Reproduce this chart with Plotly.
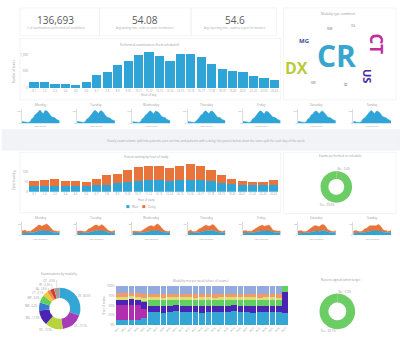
import plotly.graph_objects as go

W, H = 400, 346
BLUE = "#2fa4d6"
ORANGE = "#e8743b"
GREEN = "#6ccd64"
TXT = "#9a9a9a"
FONT = "Open Sans"

# ---------------- data ----------------
kpi_values = ["136,693", "54.08", "54.6"]
kpi_labels = [
    "# of examinations performed (all modalities)",
    "Avg waiting time, order to exam (in minutes)",
    "Avg reporting time, exam to report (in minutes)",
]

hour_labels = ["0-1", "1-2", "2-3", "3-4", "4-5", "5-6", "6-7", "7-8", "8-9", "9-10",
               "10-11", "11-12", "12-13", "13-14", "14-15", "15-16", "16-17", "17-18",
               "18-19", "19-20", "20-21", "21-22", "22-23", "23-24"]

exams_by_hour = [176, 176, 127, 118, 88, 167, 392, 470, 696, 794, 990, 1069,
                 951, 804, 1020, 1020, 912, 725, 559, 520, 480, 343, 294, 225]

days = ["Monday", "Tuesday", "Wednesday", "Thursday", "Friday", "Saturday", "Sunday"]

exams_mon = [24, 22, 17, 15, 12, 22, 58, 70, 104, 118, 146, 160, 138, 112, 150, 152, 134, 106, 82, 76, 70, 50, 41, 30]
exams_tue = [26, 24, 19, 16, 14, 25, 55, 66, 98, 115, 144, 156, 140, 118, 148, 150, 128, 102, 78, 72, 66, 47, 40, 31]
exams_wed = [23, 24, 18, 17, 12, 23, 57, 69, 101, 112, 140, 150, 134, 114, 147, 144, 131, 105, 81, 75, 71, 49, 43, 33]
exams_thu = [25, 23, 16, 18, 13, 24, 54, 68, 97, 110, 138, 152, 137, 116, 145, 148, 130, 103, 79, 73, 68, 48, 42, 32]
exams_fri = [27, 25, 19, 16, 14, 25, 56, 65, 96, 114, 142, 151, 133, 113, 144, 142, 127, 104, 80, 74, 70, 50, 44, 34]
exams_sat = [26, 26, 18, 17, 13, 23, 55, 66, 100, 112, 139, 150, 135, 117, 143, 146, 129, 101, 79, 72, 67, 49, 41, 33]
exams_sun = [24, 25, 17, 18, 12, 25, 57, 67, 98, 113, 141, 154, 136, 115, 146, 145, 131, 104, 81, 75, 69, 51, 43, 31]

waiting_seen = [28, 28, 30, 28, 28, 28, 32, 35, 42, 48, 55, 58, 58, 57, 58, 62, 60, 55, 45, 38, 33, 32, 32, 32]
waiting_delay = [27, 30, 33, 24, 24, 22, 31, 50, 50, 60, 68, 72, 70, 63, 72, 76, 70, 55, 38, 27, 22, 16, 18, 26]
legend_names = ["Wait", "Delay"]

seen_mon = [4, 4, 5, 4, 4, 4, 5, 5, 6, 7, 8, 9, 8, 8, 8, 9, 9, 8, 7, 5, 5, 5, 4, 5]
delay_mon = [4, 5, 5, 3, 4, 3, 4, 7, 8, 9, 11, 10, 9, 10, 11, 12, 10, 8, 5, 4, 3, 2, 3, 4]
seen_tue = [4, 4, 4, 4, 4, 4, 4, 5, 6, 7, 8, 8, 9, 8, 8, 9, 8, 8, 6, 5, 5, 4, 5, 5]
delay_tue = [4, 4, 5, 4, 3, 3, 5, 7, 7, 8, 10, 11, 10, 9, 10, 11, 10, 7, 5, 4, 3, 3, 3, 4]
seen_wed = [4, 4, 4, 4, 4, 4, 5, 5, 6, 7, 7, 8, 8, 8, 9, 9, 9, 8, 6, 6, 5, 5, 5, 4]
delay_wed = [4, 4, 4, 3, 3, 3, 4, 6, 7, 9, 10, 10, 10, 8, 10, 12, 11, 8, 6, 4, 3, 2, 2, 4]
seen_thu = [4, 4, 5, 4, 4, 4, 5, 5, 6, 6, 8, 8, 8, 8, 8, 9, 9, 7, 6, 5, 5, 5, 5, 5]
delay_thu = [3, 4, 5, 3, 3, 3, 4, 7, 7, 9, 10, 11, 10, 9, 10, 11, 10, 8, 5, 4, 3, 2, 3, 4]
seen_fri = [4, 4, 4, 4, 4, 4, 5, 5, 6, 7, 8, 8, 8, 8, 8, 9, 9, 8, 6, 5, 5, 5, 5, 5]
delay_fri = [4, 4, 5, 3, 4, 3, 4, 7, 7, 9, 9, 10, 11, 9, 10, 10, 10, 8, 5, 4, 3, 3, 3, 3]
seen_sat = [4, 4, 4, 4, 4, 4, 4, 5, 6, 7, 8, 8, 8, 7, 8, 9, 9, 8, 6, 5, 5, 5, 4, 5]
delay_sat = [4, 4, 5, 3, 3, 3, 5, 7, 8, 9, 10, 10, 9, 9, 11, 11, 10, 8, 5, 4, 3, 2, 3, 4]
seen_sun = [4, 4, 4, 4, 4, 4, 5, 5, 6, 7, 8, 8, 8, 8, 8, 9, 8, 8, 6, 5, 5, 5, 5, 5]
delay_sun = [4, 4, 5, 3, 3, 3, 4, 7, 7, 9, 10, 10, 10, 9, 10, 11, 11, 8, 5, 4, 4, 2, 3, 4]

on_time_labels = ["No", "Yes"]
on_time_share = [0.4, 99.6]
signed_labels = ["No", "Yes"]
signed_share = [0.3, 99.7]

modality_names = ["CR", "US", "DX", "MG", "NM", "MR", "CT", "XA", "RF", "OT"]
modality_share = [30.5, 17.1, 13.9, 11.9, 6.2, 6.0, 4.1, 2.6, 3.2, 4.5]
modality_colors = ["#33a6d6", "#a83bb8", "#b8d43c", "#4b24b3", "#3a7bd5",
                   "#5fcf62", "#f2c83a", "#f08a4b", "#d43c2c", "#a0a0a0"]

weeks = ["W01", "W02", "W03", "W04", "W05", "W06", "W07", "W08", "W09", "W10",
         "W11", "W12", "W13", "W14", "W15", "W16", "W17", "W18", "W19", "W20",
         "W21", "W22", "W23", "W24", "W25", "W26", "W27"]
mix_names = ["CR", "MG", "US", "DX", "RF", "CT", "Other"]
mix_cr = [12, 13, 12, 12, 18, 33, 34, 32, 33, 35, 33, 34, 33, 32, 34, 33, 34, 33, 35, 33, 34, 32, 33, 34, 33, 34, 30]
mix_mg = [38, 37, 38, 38, 24, 0, 0, 0, 0, 0, 0, 0, 0, 0, 0, 0, 0, 0, 0, 0, 0, 0, 0, 0, 0, 0, 0]
mix_us = [17, 17, 18, 17, 18, 16, 15, 17, 16, 15, 16, 15, 16, 17, 15, 16, 15, 16, 15, 16, 15, 17, 16, 15, 16, 15, 55]
mix_dx = [0, 0, 0, 0, 3, 17, 17, 16, 17, 16, 17, 17, 16, 17, 17, 16, 17, 17, 16, 17, 17, 17, 16, 17, 17, 16, 15]
mix_rf = [5, 5, 5, 5, 5, 5, 5, 5, 5, 5, 5, 5, 5, 5, 5, 5, 5, 5, 5, 5, 5, 5, 5, 5, 5, 5, 0]
mix_ct = [9, 9, 9, 9, 10, 9, 9, 9, 9, 9, 9, 9, 9, 9, 9, 9, 9, 9, 9, 9, 9, 9, 9, 9, 9, 9, 0]
mix_other = [19, 19, 18, 19, 22, 20, 20, 21, 20, 20, 20, 20, 21, 20, 20, 21, 20, 20, 20, 20, 20, 20, 21, 20, 20, 21, 0]
mix_colors = ["#33a6d6", "#b02fae", "#4b24b3", "#62cf62", "#d9e07a", "#f39a66", "#93aadd"]

cloud_words = ["CR", "CT", "DX", "US", "MG", "NM", "XA", "RF", "MR"]
cloud_sizes = [30, 17, 16, 11, 6, 3, 3, 3, 3]

# ---------------- helpers ----------------
fig = go.Figure()
_n = [0]


def new_axes(x0, x1, y0, y1, xkw=None, ykw=None):
    """Create an x/y axis pair whose plot area covers the given pixel box."""
    _n[0] += 1
    s = "" if _n[0] == 1 else str(_n[0])
    base = dict(tickfont=dict(size=3, color=TXT), showgrid=False, zeroline=False,
                showline=False, ticks="", fixedrange=True)
    xa = dict(domain=[x0 / W, x1 / W], anchor="y" + s, type="category", **base)
    ya = dict(domain=[1 - y1 / H, 1 - y0 / H], anchor="x" + s, **base)
    xa.update(xkw or {})
    ya.update(ykw or {})
    fig.update_layout(**{"xaxis" + s: xa, "yaxis" + s: ya})
    return "x" + s, "y" + s


def text(x, y, s, size=3.5, color=TXT, angle=0, **kw):
    fig.add_annotation(x=x / W, y=1 - y / H, xref="paper", yref="paper", text=s,
                       showarrow=False, textangle=angle, xanchor="center",
                       yanchor="middle", font=dict(size=size, color=color, family=FONT), **kw)


def box(x0, y0, x1, y1, fill="rgba(0,0,0,0)", line="#ededed"):
    fig.add_shape(type="rect", xref="paper", yref="paper", x0=x0 / W, x1=x1 / W,
                  y0=1 - y1 / H, y1=1 - y0 / H, line=dict(color=line, width=0.6),
                  fillcolor=fill, layer="below")


# ---------------- panels ----------------
box(18, 6, 98, 34)
box(98, 6, 190, 34)
box(190, 6, 276, 34)
box(18, 37, 280, 99)
box(283, 6, 396, 99)
box(0, 129, 400, 150, fill="#f1f3f6", line="#f1f3f6")
box(18, 152, 280, 213)
box(283, 152, 396, 214)

# ---------------- KPI row ----------------
kpi_x = [54, 144, 234]
for cx, v, lab in zip(kpi_x, kpi_values, kpi_labels):
    text(cx, 18, v, size=10, color="#5a5a5a")
    text(cx, 26, lab, size=2.8, color="#aaaaaa")

# ---------------- exams by hour ----------------
xa, ya = new_axes(27, 279, 49, 87,
                  xkw=dict(tickfont=dict(size=2.6, color=TXT)),
                  ykw=dict(range=[0, 1120], tickvals=[0, 500, 1000], ticktext=["0", "500", "1,000"]))
fig.add_bar(x=hour_labels, y=exams_by_hour, marker=dict(color=BLUE, line=dict(width=0)),
            xaxis=xa, yaxis=ya, showlegend=False)
text(148, 43, "Performed examinations (from scheduled)", size=3)
text(148, 94.5, "Hour of day", size=2.8)
text(12, 70, "Number of exams", size=2.8, angle=-90)

# ---------------- word cloud ----------------
text(338, 12, "Modality type combined", size=3)
cloud_pos = [(336, 54), (376, 42), (296, 67), (368, 75), (304, 39),
             (329, 27), (353, 24), (345, 84), (313, 82)]
cloud_colors = ["#38a5cf", "#c12c9e", "#b8cc3a", "#4a2d9e", "#3b4a9a",
                "#aaaaaa", "#bbbbbb", "#999999", "#b0b0b0"]
cloud_angles = [0, 90, 0, 90, 0, 0, 0, 90, 0]
for w_, sz, (cx, cy), col, ang in zip(cloud_words, cloud_sizes, cloud_pos, cloud_colors, cloud_angles):
    text(cx, cy, "<b>" + w_ + "</b>", size=sz, color=col, angle=ang)

# ---------------- daily exams ----------------
day_exams = [exams_mon, exams_tue, exams_wed, exams_thu, exams_fri, exams_sat, exams_sun]
for i, (d, vals) in enumerate(zip(days, day_exams)):
    x0 = 20 + i * 55.5
    xa, ya = new_axes(x0, x0 + 38, 108, 123,
                      xkw=dict(showticklabels=False),
                      ykw=dict(range=[0, 175], tickvals=[0, 150], tickfont=dict(size=2.4, color=TXT),
                               showline=True, linecolor="#dddddd", linewidth=0.5))
    fig.add_scatter(x=hour_labels, y=vals, mode="lines", fill="tozeroy",
                    line=dict(color=BLUE, width=0.5), fillcolor=BLUE,
                    xaxis=xa, yaxis=ya, showlegend=False)
    text(x0 + 19, 104, d, size=3)
    text(x0 + 19, 126, "Hour of day", size=2.3)

# ---------------- info band ----------------
text(205, 141, "Hourly exam volume split into patients seen on time and patients with a delay; "
               "the panels below show the same split for each day of the week", size=3, color="#a5a5a5")

# ---------------- waiting by hour (stacked) ----------------
xa, ya = new_axes(27, 278, 163, 192,
                  xkw=dict(tickfont=dict(size=2.6, color=TXT)),
                  ykw=dict(range=[0, 145], tickvals=[0, 50, 100]))
fig.add_bar(x=hour_labels, y=waiting_seen, name=legend_names[0], marker=dict(color=BLUE, line=dict(width=0)),
            xaxis=xa, yaxis=ya, showlegend=False)
fig.add_bar(x=hour_labels, y=waiting_delay, name=legend_names[1], marker=dict(color=ORANGE, line=dict(width=0)),
            xaxis=xa, yaxis=ya, showlegend=False)
text(145, 157, "Patient waiting by hour of study", size=3)
text(145, 200, "Hour of study", size=2.6)
text(12, 180, "Patients waiting", size=2.6, angle=-90)
# legend swatches
for lx, col, name in [(125, BLUE, legend_names[0]), (141, ORANGE, legend_names[1])]:
    fig.add_shape(type="rect", xref="paper", yref="paper", x0=lx / W, x1=(lx + 3) / W,
                  y0=1 - 208.5 / H, y1=1 - 205.5 / H, fillcolor=col, line=dict(width=0))
    fig.add_annotation(x=(lx + 4) / W, y=1 - 207 / H, xref="paper", yref="paper", text=name,
                       showarrow=False, xanchor="left", yanchor="middle",
                       font=dict(size=3, color=TXT, family=FONT))

# ---------------- on time donut ----------------
text(340, 156, "Exams performed on schedule", size=3)
fig.add_pie(labels=on_time_labels, values=on_time_share, hole=0.5, sort=False,
            direction="clockwise", marker=dict(colors=[ORANGE, GREEN], line=dict(width=0)),
            domain=dict(x=[320 / W, 352 / W], y=[1 - 203 / H, 1 - 171 / H]),
            textposition="outside", texttemplate="%{label} - %{percent:.1%}",
            textfont=dict(size=2.8, color=TXT), showlegend=False)

# ---------------- daily waiting (stacked areas) ----------------
day_seen = [seen_mon, seen_tue, seen_wed, seen_thu, seen_fri, seen_sat, seen_sun]
day_delay = [delay_mon, delay_tue, delay_wed, delay_thu, delay_fri, delay_sat, delay_sun]
for i, (d, s_vals, d_vals) in enumerate(zip(days, day_seen, day_delay)):
    x0 = 20 + i * 55.5
    xa, ya = new_axes(x0, x0 + 38, 223, 236,
                      xkw=dict(showticklabels=False),
                      ykw=dict(range=[0, 24], tickvals=[0, 20], tickfont=dict(size=2.4, color=TXT),
                               showline=True, linecolor="#dddddd", linewidth=0.5))
    fig.add_scatter(x=hour_labels, y=s_vals, mode="lines", stackgroup="d%d" % i,
                    line=dict(color=BLUE, width=0.4), fillcolor=BLUE,
                    xaxis=xa, yaxis=ya, showlegend=False)
    fig.add_scatter(x=hour_labels, y=d_vals, mode="lines", stackgroup="d%d" % i,
                    line=dict(color=ORANGE, width=0.4), fillcolor=ORANGE,
                    xaxis=xa, yaxis=ya, showlegend=False)
    text(x0 + 19, 219, d, size=3)
    text(x0 + 19, 240, "Hour of study", size=2.3)

# ---------------- modality donut ----------------
text(57, 275, "Examinations by modality", size=3)
fig.add_pie(labels=modality_names, values=modality_share, hole=0.5, sort=False,
            direction="clockwise", marker=dict(colors=modality_colors, line=dict(width=0)),
            domain=dict(x=[37 / W, 79 / W], y=[1 - 331 / H, 1 - 289 / H]),
            textposition="outside", texttemplate="%{label} - %{percent:.1%}",
            textfont=dict(size=2.6, color=TXT), showlegend=False)

# ---------------- weekly modality mix (100%) ----------------
xa, ya = new_axes(114, 288, 287, 327,
                  xkw=dict(tickangle=-45, tickfont=dict(size=2.6, color=TXT)),
                  ykw=dict(range=[0, 100], tickvals=[0, 25, 50, 75, 100],
                           ticktext=["0%", "25%", "50%", "75%", "100%"]))
for name, vals, col in zip(mix_names, [mix_cr, mix_mg, mix_us, mix_dx, mix_rf, mix_ct, mix_other], mix_colors):
    fig.add_bar(x=weeks, y=vals, name=name, width=0.9, marker=dict(color=col, line=dict(width=0)),
                xaxis=xa, yaxis=ya, showlegend=False)
text(200, 282, "Modality mix per week (share of exams)", size=3)
text(103, 307, "Share of exams", size=2.6, angle=-90)

# ---------------- signed report donut ----------------
text(340, 281, "Reports signed within target", size=3)
fig.add_pie(labels=signed_labels, values=signed_share, hole=0.5, sort=False,
            direction="clockwise", marker=dict(colors=[ORANGE, GREEN], line=dict(width=0)),
            domain=dict(x=[319 / W, 355 / W], y=[1 - 331 / H, 1 - 295 / H]),
            textposition="outside", texttemplate="%{label} - %{percent:.1%}",
            textfont=dict(size=2.8, color=TXT), showlegend=False)

fig.update_layout(width=W, height=H, margin=dict(l=0, r=0, t=0, b=0),
                  paper_bgcolor="white", plot_bgcolor="white",
                  barmode="stack", bargap=0.12,
                  font=dict(family=FONT, color=TXT, size=3))

fig.write_html("out.html", config={"displayModeBar": False})
